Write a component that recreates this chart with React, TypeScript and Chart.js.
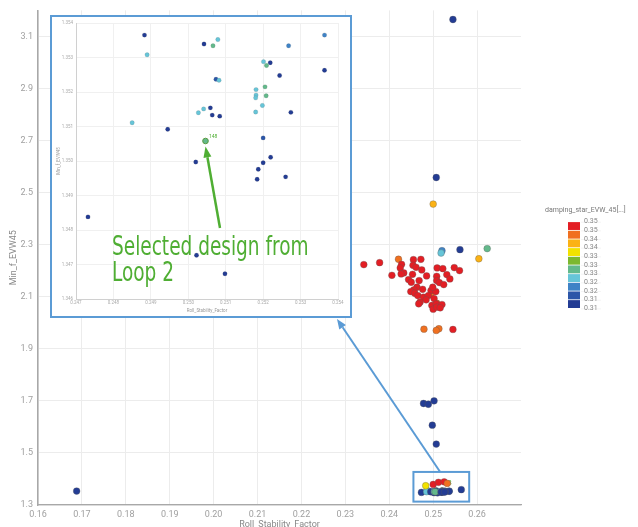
import React, { useEffect, useRef } from "react";
import { Chart, registerables } from "chart.js";

Chart.register(...registerables);

// ---------- colour scale (damping_star_EVW_45) ----------
const palette = [
  "#e31e24", "#f07020", "#fbb215", "#f2e200", "#7cb82f",
  "#63b98b", "#66c5d8", "#3f83c6", "#2c56a8", "#233c94",
];
const legendTitle = "damping_star_EVW_45[...]";
const legendLabels = ["0.35", "0.35", "0.34", "0.34", "0.33", "0.33", "0.33", "0.32", "0.32", "0.31", "0.31"];

// ---------- axes ----------
const mainXTicks = [0.16, 0.17, 0.18, 0.19, 0.2, 0.21, 0.22, 0.23, 0.24, 0.25, 0.26];
const mainYTicks = [1.3, 1.5, 1.7, 1.9, 2.1, 2.3, 2.5, 2.7, 2.9, 3.1];
const insetXTicks = [0.247, 0.248, 0.249, 0.25, 0.251, 0.252, 0.253, 0.254];
const insetYTicks = [1.346, 1.347, 1.348, 1.349, 1.35, 1.351, 1.352, 1.353, 1.354];
const xTitle = "Roll_Stability_Factor";
const yTitle = "Min_f_EVW45";

// ---------- designs inside the zoomed region (inset) ----------
const insetX = [0.24732, 0.24883, 0.2489, 0.2485, 0.24945, 0.2502, 0.25022, 0.25098, 0.25042, 0.25079,
  0.25066, 0.25074, 0.25082, 0.25027, 0.25041, 0.25059, 0.25064, 0.25084, 0.25046, 0.25201,
  0.25219, 0.25209, 0.25244, 0.25268, 0.25364, 0.25364, 0.25181, 0.25205, 0.25181, 0.2518,
  0.25208, 0.25198, 0.2518, 0.25274, 0.252, 0.2522, 0.252, 0.25187, 0.25184, 0.2526];
const insetY = [1.34838, 1.35365, 1.35308, 1.35111, 1.35092, 1.34997, 1.34727, 1.34673, 1.35339, 1.35352,
  1.35334, 1.35237, 1.35234, 1.3514, 1.35151, 1.35154, 1.35133, 1.3513, 1.35058, 1.35288,
  1.35285, 1.35277, 1.35248, 1.35334, 1.35365, 1.35263, 1.35207, 1.35215, 1.35191, 1.35183,
  1.35189, 1.35161, 1.35142, 1.35141, 1.35067, 1.35011, 1.34995, 1.34976, 1.34947, 1.34954];
const insetC = [9, 9, 6, 6, 9, 9, 9, 9, 9, 6, 5, 8, 6, 6, 6, 9, 9, 9, 5, 6,
  9, 5, 9, 7, 7, 9, 6, 5, 6, 6, 5, 6, 6, 9, 8, 9, 9, 9, 9, 9];
const selectedIndex = 18;
const selectedLabel = "148";

// ---------- other designs (main chart only) ----------
const extraX = [
  0.2545, 0.2507, 0.2561, 0.1688, 0.2478, 0.2489, 0.2502, 0.2498, 0.2507, 0.2564,
  0.252, 0.2518, 0.2623, 0.25, 0.2604, 0.2483,
  0.2421, 0.2479, 0.2513, 0.2507, 0.2495, 0.2508,
  0.2342, 0.2378, 0.2406, 0.2455, 0.2472, 0.2428, 0.2425, 0.2454, 0.2461, 0.2474,
  0.2433, 0.2427, 0.2453, 0.2485, 0.2509, 0.2522, 0.2548, 0.256, 0.2531, 0.2538,
  0.2508, 0.2444, 0.245, 0.2468, 0.2508, 0.2514, 0.2524, 0.2463, 0.2456, 0.2449,
  0.2458, 0.2476, 0.2495, 0.2506, 0.2499, 0.2465, 0.2478, 0.2489, 0.2502, 0.2484,
  0.247, 0.2467, 0.2497, 0.2507, 0.252, 0.25, 0.2508, 0.2516, 0.2545,
  0.25, 0.2512, 0.2525, 0.2532,
];
const extraY = [
  3.165, 2.558, 2.281, 1.3536, 1.69, 1.687, 1.7, 1.6065, 1.534, 1.359,
  2.277, 2.268, 2.285, 2.456, 2.246, 1.374,
  2.244, 1.9755, 1.977, 1.9705, 2.11, 2.075,
  2.2234, 2.231, 2.1824, 2.2425, 2.2437, 2.2245, 2.2107, 2.2207, 2.213, 2.2031,
  2.1916, 2.1877, 2.1862, 2.1801, 2.2107, 2.208, 2.2119, 2.2004, 2.1851, 2.1686,
  2.1785, 2.1659, 2.1556, 2.1621, 2.1621, 2.1544, 2.1467, 2.1364, 2.1264, 2.1199,
  2.1134, 2.1287, 2.1238, 2.1199, 2.1364, 2.1046, 2.0981, 2.1046, 2.0931, 2.0881,
  2.0789, 2.0728, 2.0663, 2.0728, 2.0701, 2.0521, 2.0598, 2.0575, 1.9743,
  1.379, 1.387, 1.389, 1.383,
];
const extraC = [
  9, 9, 9, 9, 9, 9, 9, 9, 9, 9,
  7, 6, 5, 2, 2, 3,
  1, 1, 1, 1, 1, 1,
  0, 0, 0, 0, 0, 0, 0, 0, 0, 0,
  0, 0, 0, 0, 0, 0, 0, 0, 0, 0,
  0, 0, 0, 0, 0, 0, 0, 0, 0, 0,
  0, 0, 0, 0, 0, 0, 0, 0, 0, 0,
  0, 0, 0, 0, 0, 0, 0, 0, 0,
  0, 0, 0, 1,
];

// zoom box around the low cluster (data units)
const zoomBox = { x0: 0.2455, x1: 0.2582, y0: 1.313, y1: 1.427 };

const BLUE = "#5b9bd5";
const GREEN = "#4fae33";
const FONT = "Roboto, 'Noto Sans', sans-serif";

function arrow(ctx: CanvasRenderingContext2D, x0: number, y0: number, x1: number, y1: number,
  color: string, lw: number, headLen: number, headW: number) {
  const a = Math.atan2(y1 - y0, x1 - x0);
  const bx = x1 - Math.cos(a) * headLen;
  const by = y1 - Math.sin(a) * headLen;
  ctx.save();
  ctx.strokeStyle = color;
  ctx.fillStyle = color;
  ctx.lineWidth = lw;
  ctx.beginPath();
  ctx.moveTo(x0, y0);
  ctx.lineTo(bx, by);
  ctx.stroke();
  ctx.beginPath();
  ctx.moveTo(x1, y1);
  ctx.lineTo(bx + Math.sin(a) * headW / 2, by - Math.cos(a) * headW / 2);
  ctx.lineTo(bx - Math.sin(a) * headW / 2, by + Math.cos(a) * headW / 2);
  ctx.closePath();
  ctx.fill();
  ctx.restore();
}

export default function App() {
  const mainRef = useRef<HTMLCanvasElement>(null);
  const insetRef = useRef<HTMLCanvasElement>(null);

  useEffect(() => {
    Chart.defaults.font.family = FONT;
    const allX = [...insetX, ...extraX];
    const allY = [...insetY, ...extraY];
    const allC = [...insetC, ...extraC];

    const mainPlugin = {
      id: "mainExtras",
      beforeDatasetsDraw(chart: any) {
        const ctx = chart.ctx;
        const xs = chart.scales.x, ys = chart.scales.y;
        const px = xs.getPixelForValue(insetX[selectedIndex]);
        const py = ys.getPixelForValue(insetY[selectedIndex]);
        ctx.save();
        ctx.fillStyle = GREEN;
        ctx.font = `8px ${FONT}`;
        ctx.textBaseline = "middle";
        ctx.fillText(selectedLabel, px + 3, py - 9);
        ctx.restore();
      },
      afterDatasetsDraw(chart: any) {
        const ctx = chart.ctx;
        const xs = chart.scales.x, ys = chart.scales.y;
        const bx0 = xs.getPixelForValue(zoomBox.x0);
        const bx1 = xs.getPixelForValue(zoomBox.x1);
        const by0 = ys.getPixelForValue(zoomBox.y1);
        const by1 = ys.getPixelForValue(zoomBox.y0);
        ctx.save();
        ctx.strokeStyle = BLUE;
        ctx.lineWidth = 2;
        ctx.strokeRect(bx0, by0, bx1 - bx0, by1 - by0);
        ctx.restore();
        const sx = bx0 + (bx1 - bx0) * 0.48;
        arrow(ctx, sx, by0, 337, 319, BLUE, 2, 10, 8);
      },
      afterDraw(chart: any) {
        const ctx = chart.ctx;
        ctx.save();
        ctx.font = `7px ${FONT}`;
        ctx.fillStyle = "#777";
        ctx.textBaseline = "middle";
        ctx.textAlign = "left";
        ctx.fillText(legendTitle, 545, 210);
        const top = 221.7, h = 8.67;
        for (let i = 0; i < palette.length; i++) {
          ctx.fillStyle = palette[i];
          ctx.fillRect(568, top + i * h + 0.4, 12, h - 0.8);
        }
        ctx.strokeStyle = "#ececec";
        ctx.lineWidth = 0.6;
        for (let i = 0; i < legendLabels.length; i++) {
          const y = top + i * h;
          ctx.beginPath();
          ctx.moveTo(581, y + 0.5);
          ctx.lineTo(601, y + 0.5);
          ctx.stroke();
          ctx.fillStyle = "#888";
          ctx.fillText(legendLabels[i], 584, y);
        }
        ctx.restore();
      },
    };

    const main = new Chart(mainRef.current!, {
      type: "scatter",
      data: {
        datasets: [{
          data: allX.map((x, i) => ({ x, y: allY[i] })),
          backgroundColor: allC.map((c) => palette[c]),
          borderColor: "rgba(90,90,90,0.55)",
          borderWidth: 0.6,
          pointRadius: 3.4,
          pointHoverRadius: 3.4,
        }],
      },
      options: {
        animation: false,
        responsive: false,
        maintainAspectRatio: false,
        events: [],
        layout: { padding: { left: 0, top: 8, right: 117, bottom: 0 } },
        plugins: { legend: { display: false }, tooltip: { enabled: false } },
        scales: {
          x: {
            type: "linear", min: 0.16, max: 0.27,
            afterBuildTicks: (s: any) => { s.ticks = mainXTicks.map((v) => ({ value: v })); },
            afterFit: (s: any) => { s.height = 22; },
            grid: { color: "#ececec", drawTicks: false },
            border: { color: "#a8a8a8", width: 1.2 },
            ticks: { padding: 4, color: "#a0a0a0", font: { size: 9 }, autoSkip: false, maxRotation: 0,
              callback: (v: any) => Number(v).toFixed(2) },
            title: { display: true, text: xTitle, color: "#888", font: { size: 9 }, padding: { top: 0, bottom: -3 } },
          },
          y: {
            type: "linear", min: 1.3, max: 3.2,
            afterBuildTicks: (s: any) => { s.ticks = mainYTicks.map((v) => ({ value: v })); },
            afterFit: (s: any) => { s.width = 38; },
            grid: { color: "#ececec", drawTicks: false },
            border: { color: "#a8a8a8", width: 1.5 },
            ticks: { padding: 5, color: "#a0a0a0", font: { size: 9 }, autoSkip: false,
              callback: (v: any) => Number(v).toFixed(1) },
            title: { display: true, text: yTitle, color: "#888", font: { size: 9 }, padding: { top: 8, bottom: 0 } },
          },
        },
      } as any,
      plugins: [mainPlugin],
    });

    const insetPlugin = {
      id: "insetExtras",
      afterDatasetsDraw(chart: any) {
        const ctx = chart.ctx;
        const xs = chart.scales.x, ys = chart.scales.y;
        const px = xs.getPixelForValue(insetX[selectedIndex]);
        const py = ys.getPixelForValue(insetY[selectedIndex]);
        ctx.save();
        ctx.fillStyle = GREEN;
        ctx.font = `5px ${FONT}`;
        ctx.textBaseline = "middle";
        ctx.fillText(selectedLabel, px + 3.5, py - 4.5);
        ctx.restore();
        arrow(ctx, 168, 211, px, py + 5.5, GREEN, 2.5, 11, 8);
        ctx.save();
        ctx.fillStyle = GREEN;
        ctx.font = `26px 'Liberation Sans Narrow', 'DejaVu Sans Condensed', Roboto, sans-serif`;
        ctx.textBaseline = "alphabetic";
        const l1 = "Selected design from";
        const w = ctx.measureText(l1).width;
        const k = 196.5 / w;
        ctx.translate(60, 238);
        ctx.scale(k, 1);
        ctx.fillText(l1, 0, 0);
        ctx.fillText("Loop 2", 0, 25.5);
        ctx.restore();
      },
    };

    const inset = new Chart(insetRef.current!, {
      type: "scatter",
      data: {
        datasets: [{
          data: insetX.map((x, i) => ({ x, y: insetY[i] })),
          backgroundColor: insetC.map((c) => palette[c]),
          borderColor: insetC.map((_, i) => (i === selectedIndex ? "#5a9a40" : "rgba(70,70,70,0.35)")),
          borderWidth: insetC.map((_, i) => (i === selectedIndex ? 1 : 0.4)),
          pointRadius: insetC.map((_, i) => (i === selectedIndex ? 2.8 : 2.2)),
          pointHoverRadius: 2.2,
        }],
      },
      options: {
        animation: false,
        responsive: false,
        maintainAspectRatio: false,
        events: [],
        layout: { padding: { left: 0, top: 6, right: 12, bottom: 0 } },
        plugins: { legend: { display: false }, tooltip: { enabled: false } },
        scales: {
          x: {
            type: "linear", min: 0.247, max: 0.254,
            afterBuildTicks: (s: any) => { s.ticks = insetXTicks.map((v) => ({ value: v })); },
            afterFit: (s: any) => { s.height = 17; },
            grid: { color: "#f0f0f0", drawTicks: false },
            border: { color: "#d0d0d0", width: 1 },
            ticks: { padding: 1.5, color: "#aaa", font: { size: 4.5 }, autoSkip: false, maxRotation: 0,
              callback: (v: any) => Number(v).toFixed(3) },
            title: { display: true, text: xTitle, color: "#999", font: { size: 4.5 }, padding: { top: 0, bottom: 2.3 } },
          },
          y: {
            type: "linear", min: 1.346, max: 1.354,
            afterBuildTicks: (s: any) => { s.ticks = insetYTicks.map((v) => ({ value: v })); },
            afterFit: (s: any) => { s.width = 24; },
            grid: { color: "#f0f0f0", drawTicks: false },
            border: { color: "#d0d0d0", width: 1 },
            ticks: { padding: 3, color: "#aaa", font: { size: 4.5 }, autoSkip: false,
              callback: (v: any) => Number(v).toFixed(3) },
            title: { display: true, text: yTitle, color: "#999", font: { size: 4.5 }, padding: { top: 4.6, bottom: 0 } },
          },
        },
      } as any,
      plugins: [insetPlugin],
    });

    return () => { main.destroy(); inset.destroy(); };
  }, []);

  return (
    <div style={{ position: "fixed", left: 0, top: 0, width: 638, height: 527, background: "#fff", overflow: "hidden" }}>
      <canvas ref={mainRef} width={638} height={527}
        style={{ position: "absolute", left: 0, top: 0, width: 638, height: 527 }} />
      <div style={{ position: "absolute", left: 50, top: 15, width: 302, height: 303, boxSizing: "border-box",
        border: `2px solid ${BLUE}`, background: "#fff" }}>
        <canvas ref={insetRef} width={298} height={299}
          style={{ position: "absolute", left: 0, top: 0, width: 298, height: 299 }} />
      </div>
    </div>
  );
}
